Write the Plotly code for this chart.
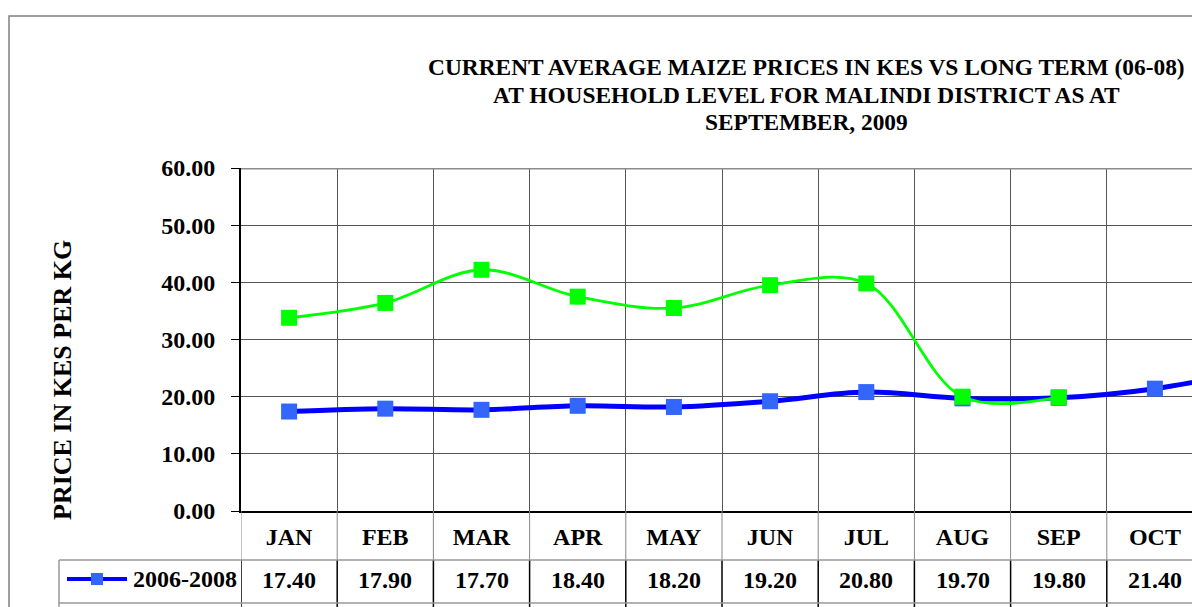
import plotly.graph_objects as go

# ---------------- data ----------------
months = ["JAN", "FEB", "MAR", "APR", "MAY", "JUN", "JUL", "AUG", "SEP", "OCT", "NOV"]
long_term_name = "2006-2008"
long_term = [17.40, 17.90, 17.70, 18.40, 18.20, 19.20, 20.80, 19.70, 19.80, 21.40, 24.50]
current_name = "2009"
current = [33.8, 36.4, 42.2, 37.5, 35.5, 39.5, 39.8, 20.0, 19.9]
y_ticks = [0, 10, 20, 30, 40, 50, 60]
title_lines = [
    "CURRENT AVERAGE MAIZE PRICES IN KES VS LONG TERM (06-08)",
    "AT HOUSEHOLD LEVEL FOR MALINDI DISTRICT AS AT",
    "SEPTEMBER, 2009",
]
y_title = "PRICE IN KES PER KG"

# ---------------- layout helpers ----------------
W, H = 1192, 607
def px(x):
    return x / W
def py(y):
    return 1 - y / H

FONT = "Liberation Serif"
bold = dict(family=FONT, size=24, color="black", weight=700)
title_font = dict(family=FONT, size=23.4, color="black", weight=700)

fig = go.Figure()
fig.add_trace(go.Scatter(
    x=months[:len(long_term)], y=long_term, name=long_term_name,
    mode="lines+markers",
    line=dict(color="#0000FF", width=5, shape="spline", smoothing=1.0),
    marker=dict(symbol="square", size=16, color="#3366FF"),
))
fig.add_trace(go.Scatter(
    x=months[:len(current)], y=current, name=current_name,
    mode="lines+markers",
    line=dict(color="#00FF00", width=2.8, shape="spline", smoothing=1.0),
    marker=dict(symbol="square", size=16, color="#00FF00"),
))

x_right = -0.5 + (W - 241) / 96.2

fig.update_layout(
    width=W, height=H,
    margin=dict(l=0, r=0, t=0, b=0, autoexpand=False),
    paper_bgcolor="white", plot_bgcolor="white",
    showlegend=False,
    xaxis=dict(
        type="category", categoryorder="array", categoryarray=months,
        range=[-0.5, x_right], domain=[px(241), 1], automargin=False,
        showgrid=True, gridcolor="#555555", gridwidth=1,
        tickson="boundaries", ticks="", ticklabelstandoff=3,
        tickfont=bold, showline=True, linecolor="black", linewidth=2,
        zeroline=False, fixedrange=True,
    ),
    yaxis=dict(
        range=[0, 60], domain=[py(511), py(168)], automargin=False,
        tickvals=y_ticks, tickformat=".2f",
        ticks="outside", ticklen=8, tickcolor="black", tickwidth=1,
        ticklabelstandoff=11,
        tickfont=bold, showgrid=True, gridcolor="#555555", gridwidth=1.2,
        showline=True, linecolor="black", linewidth=2, zeroline=False,
        fixedrange=True,
    ),
)

shapes = []
# outer chart border
shapes.append(dict(type="rect", xref="paper", yref="paper",
                   x0=px(9), x1=1.05, y0=-0.05, y1=py(16),
                   line=dict(color="#808080", width=1.5)))
# plot area top border
shapes.append(dict(type="line", xref="paper", yref="y",
                   x0=px(241), x1=1, y0=60, y1=60,
                   line=dict(color="#8c8c8c", width=3)))
# data table: vertical lines
for i in range(len(months) + 1):
    xb = i - 0.5
    shapes.append(dict(type="line", xref="x", yref="paper",
                       x0=xb, x1=xb, y0=py(560), y1=py(511),
                       line=dict(color="#888888", width=1)))
    shapes.append(dict(type="line", xref="x", yref="paper",
                       x0=xb, x1=xb, y0=py(612), y1=py(560),
                       line=dict(color="black", width=1.5)))
# table horizontal lines and left edge
for yy in (560, 603):
    shapes.append(dict(type="line", xref="paper", yref="paper",
                       x0=px(59), x1=1, y0=py(yy), y1=py(yy),
                       line=dict(color="#999999", width=1.5)))
shapes.append(dict(type="line", xref="paper", yref="paper",
                   x0=px(59), x1=px(59), y0=py(612), y1=py(560),
                   line=dict(color="#999999", width=1.5)))
# legend key in the table
shapes.append(dict(type="line", xref="paper", yref="paper",
                   x0=px(67), x1=px(127), y0=py(579), y1=py(579),
                   line=dict(color="#0000FF", width=4)))
shapes.append(dict(type="rect", xref="paper", yref="paper",
                   x0=px(91), x1=px(103), y0=py(585), y1=py(573),
                   fillcolor="#3366FF", line=dict(width=0)))
fig.update_layout(shapes=shapes)

ann = []
title_y = [67, 95, 122]
for t, yy in zip(title_lines, title_y):
    ann.append(dict(text=t, xref="paper", yref="paper", x=px(806), y=py(yy),
                    xanchor="center", yanchor="middle", showarrow=False,
                    font=title_font))
ann.append(dict(text=y_title, xref="paper", yref="paper", x=px(62), y=py(380),
                xanchor="center", yanchor="middle", textangle=-90,
                showarrow=False, font=dict(family=FONT, size=26, color="black", weight=700)))
ann.append(dict(text=long_term_name, xref="paper", yref="paper", x=px(131), y=py(579),
                xanchor="left", yanchor="middle", showarrow=False, font=bold))
for m, v in zip(months, long_term):
    ann.append(dict(text=f"{v:.2f}", xref="x", yref="paper", x=m, y=py(580),
                    xanchor="center", yanchor="middle", showarrow=False, font=bold))
fig.update_layout(annotations=ann)

fig.write_html("out.html", config={"displayModeBar": False},
               post_script="document.body.style.margin='0';")
